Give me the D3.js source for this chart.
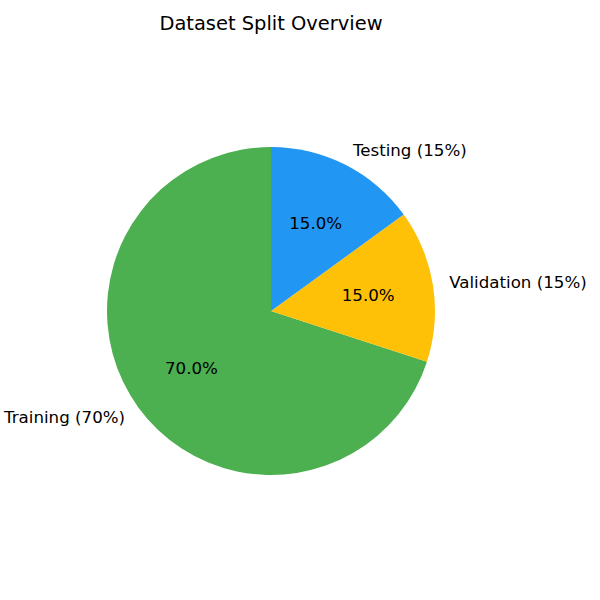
<!DOCTYPE html>
<html>
<head>
<meta charset="utf-8">
<script src="https://cdn.jsdelivr.net/npm/d3@7"></script>
<style>
  html, body { margin: 0; padding: 0; background: #fff; }
  svg { display: block; font-family: "DejaVu Sans", sans-serif; }
</style>
</head>
<body>
<svg id="chart" width="600" height="600"></svg>
<script>
const categories = ["Training", "Validation", "Testing"];
const values = [70, 15, 15];
const colors = ["#4CAF50", "#FFC107", "#2196F3"];
const title = "Dataset Split Overview";

const cx = 271, cy = 311, radius = 164;
const svg = d3.select("#chart");

svg.append("text")
  .attr("x", cx).attr("y", 23)
  .attr("text-anchor", "middle")
  .attr("dominant-baseline", "central")
  .attr("font-size", "19.44px")
  .attr("fill", "#000")
  .text(title);

const data = categories.map((c, i) => ({ label: c, value: values[i], color: colors[i] }));
const total = d3.sum(values);

// matplotlib: startangle=90, counterclockwise -> d3 negative direction from top
const pie = d3.pie().sort(null).value(d => d.value)
  .startAngle(0).endAngle(-2 * Math.PI);
const arcs = pie(data);
const arc = d3.arc().innerRadius(0).outerRadius(radius);

const g = svg.append("g").attr("transform", `translate(${cx},${cy})`);

g.selectAll("path.slice").data(arcs).enter().append("path")
  .attr("class", "slice")
  .attr("d", arc)
  .attr("fill", d => d.data.color);

function pos(d, k) {
  const a = (d.startAngle + d.endAngle) / 2; // clockwise from top
  return [Math.sin(a) * radius * k, -Math.cos(a) * radius * k];
}

g.selectAll("text.pct").data(arcs).enter().append("text")
  .attr("class", "pct")
  .attr("x", d => pos(d, 0.6)[0])
  .attr("y", d => pos(d, 0.6)[1])
  .attr("text-anchor", "middle")
  .attr("dominant-baseline", "central")
  .attr("font-size", "16.67px")
  .attr("fill", "#000")
  .text(d => (d.data.value / total * 100).toFixed(1) + "%");

g.selectAll("text.lbl").data(arcs).enter().append("text")
  .attr("class", "lbl")
  .attr("x", d => pos(d, 1.1)[0])
  .attr("y", d => pos(d, 1.1)[1])
  .attr("text-anchor", d => pos(d, 1.1)[0] >= 0 ? "start" : "end")
  .attr("dominant-baseline", "central")
  .attr("font-size", "16.67px")
  .attr("fill", "#000")
  .text(d => `${d.data.label} (${Math.round(d.data.value / total * 100)}%)`);
</script>
</body>
</html>
